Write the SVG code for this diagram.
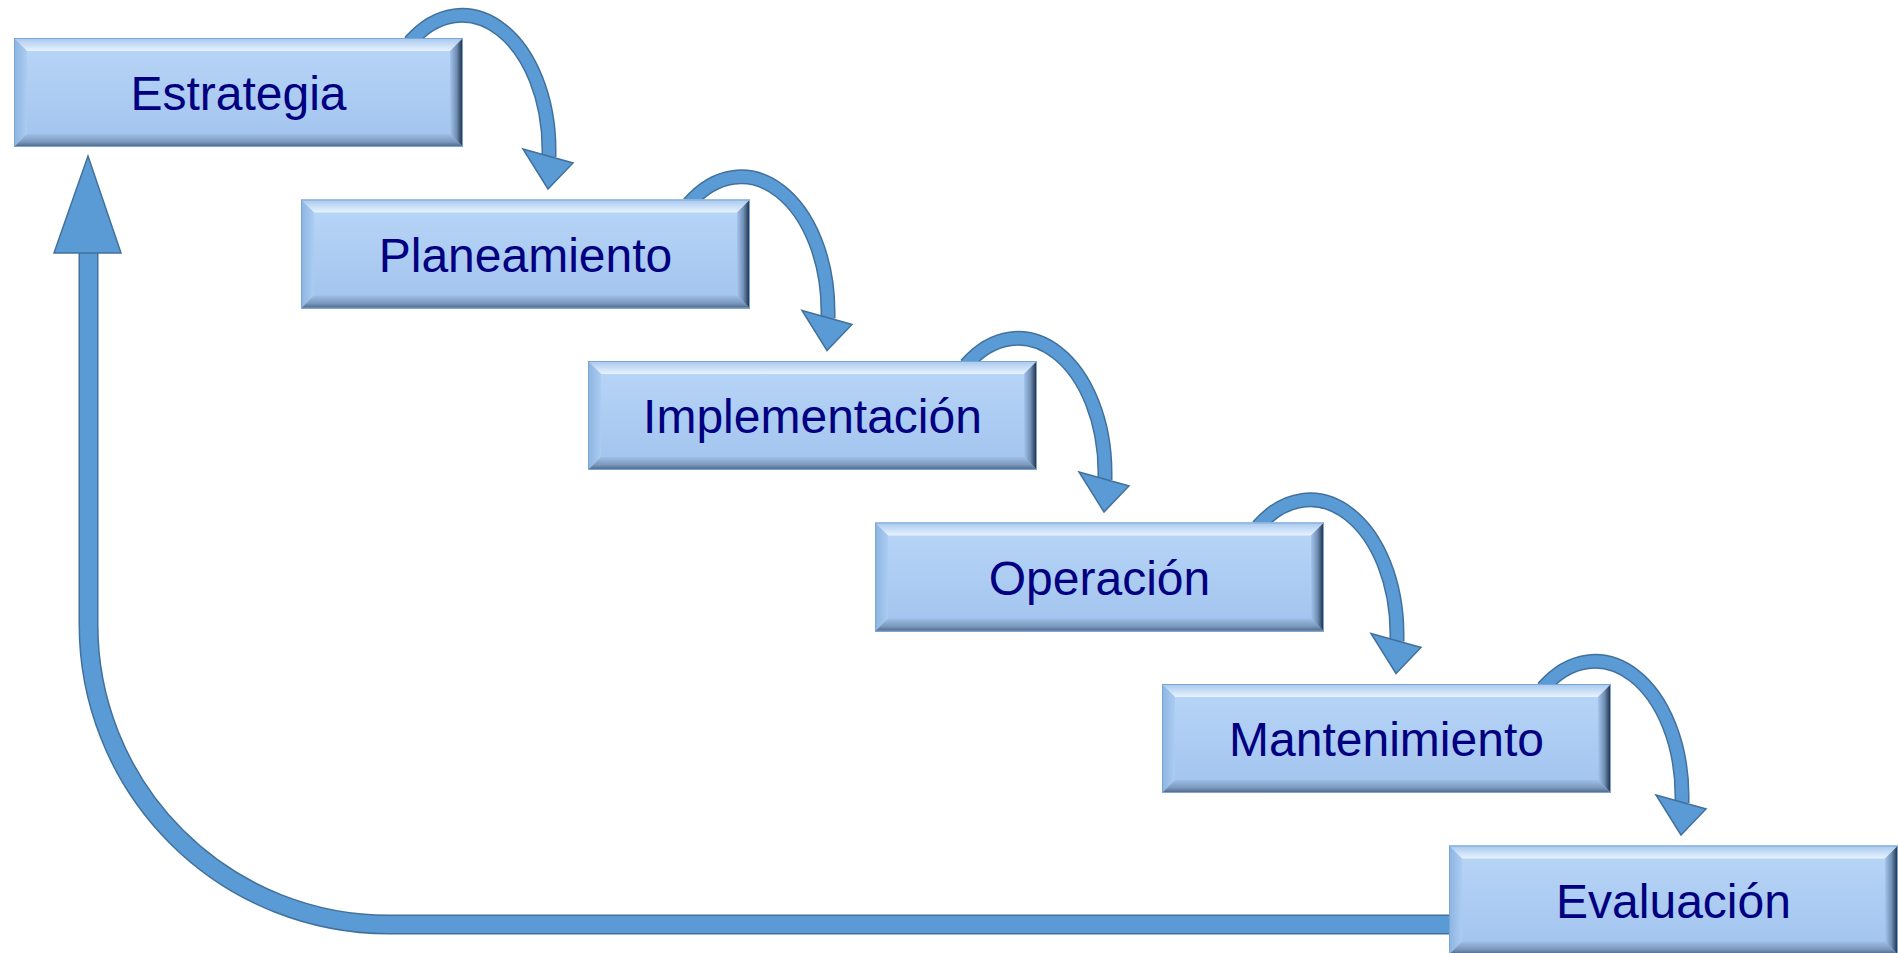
<svg xmlns="http://www.w3.org/2000/svg" width="1898" height="953" viewBox="0 0 1898 953">
<defs>
<style>
.sh-o{fill:none;stroke:#41719c;stroke-width:15}
.sh-f{fill:none;stroke:#5b9bd5;stroke-width:12}
.rt-o{fill:none;stroke:#41719c;stroke-width:20}
.rt-f{fill:none;stroke:#5b9bd5;stroke-width:17}
.head{fill:#5b9bd5;stroke:#41719c;stroke-width:1.5;stroke-linejoin:miter}
.face{fill:url(#gFace)}
.bt{fill:url(#gTop)}
.bl{fill:url(#gLeft)}
.br{fill:url(#gRight)}
.bb{fill:url(#gBot)}
.edge{fill:none;stroke:#7aa6d6;stroke-width:1}
.lbl{font-family:"Liberation Sans",Arial,sans-serif;font-size:48px;fill:#000080;text-anchor:middle}
</style>
<linearGradient id="gFace" x1="0" y1="0" x2="0" y2="1"><stop offset="0" stop-color="#b9d6f7"/><stop offset="1" stop-color="#a1c3ee"/></linearGradient>
<linearGradient id="gTop" x1="0" y1="0" x2="0" y2="1"><stop offset="0" stop-color="#a6c7ee"/><stop offset="1" stop-color="#e8f3ff"/></linearGradient>
<linearGradient id="gLeft" x1="0" y1="0" x2="1" y2="0"><stop offset="0" stop-color="#8cb3e0"/><stop offset="1" stop-color="#abcdf3"/></linearGradient>
<linearGradient id="gRight" x1="0" y1="0" x2="1" y2="0"><stop offset="0" stop-color="#a5c5ec"/><stop offset="0.5" stop-color="#6f8fb5"/><stop offset="1" stop-color="#17263a"/></linearGradient>
<linearGradient id="gBot" x1="0" y1="0" x2="0" y2="1"><stop offset="0" stop-color="#9ebfe6"/><stop offset="0.6" stop-color="#7b98bd"/><stop offset="1" stop-color="#4a6382"/></linearGradient>
<g id="box">
<rect class="face" x="0" y="0" width="449" height="109"/>
<polygon class="bt" points="0,0 449,0 436,13 13,13"/>
<polygon class="bl" points="0,0 13,13 13,96 0,109"/>
<polygon class="br" points="449,0 449,109 436,96 436,13"/>
<polygon class="bb" points="0,109 13,96 436,96 449,109"/>
<rect class="edge" x="0.5" y="0.5" width="448" height="108"/>
</g>
<g id="curl">
<path class="sh-o" d="M410,42 A87 134.5 0 0 1 549 150 L549 157"/>
<path class="sh-f" d="M410,42 A87 134.5 0 0 1 549 150 L549 157"/>
<polygon class="head" points="523,149 573,163 548,189"/>
</g>
</defs>
<rect width="1898" height="953" fill="#ffffff"/>
<g id="connectors">
<use href="#curl"/>
<use href="#curl" transform="translate(279,161.5)"/>
<use href="#curl" transform="translate(556,323)"/>
<use href="#curl" transform="translate(848,484.5)"/>
<use href="#curl" transform="translate(1133,646)"/>
<g id="return-arrow">
<path class="rt-o" d="M1460,924.5 H388.5 A300 300 0 0 1 88.5 624.5 V252"/>
<path class="rt-f" d="M1460,924.5 H388.5 A300 300 0 0 1 88.5 624.5 V252"/>
<polygon class="head" points="54,253 121,253 88,156"/>
</g>
</g>
<g id="estrategia" transform="translate(14,38)"><use href="#box"/><text class="lbl" x="224.5" y="72">Estrategia</text></g>
<g id="planeamiento" transform="translate(301,199.5)"><use href="#box"/><text class="lbl" x="224.5" y="72">Planeamiento</text></g>
<g id="implementacion" transform="translate(588,361)"><use href="#box"/><text class="lbl" x="224.5" y="72">Implementación</text></g>
<g id="operacion" transform="translate(875,522.5)"><use href="#box"/><text class="lbl" x="224.5" y="72">Operación</text></g>
<g id="mantenimiento" transform="translate(1162,684)"><use href="#box"/><text class="lbl" x="224.5" y="72">Mantenimiento</text></g>
<g id="evaluacion" transform="translate(1449,845.5)"><use href="#box"/><text class="lbl" x="224.5" y="72">Evaluación</text></g>
</svg>
